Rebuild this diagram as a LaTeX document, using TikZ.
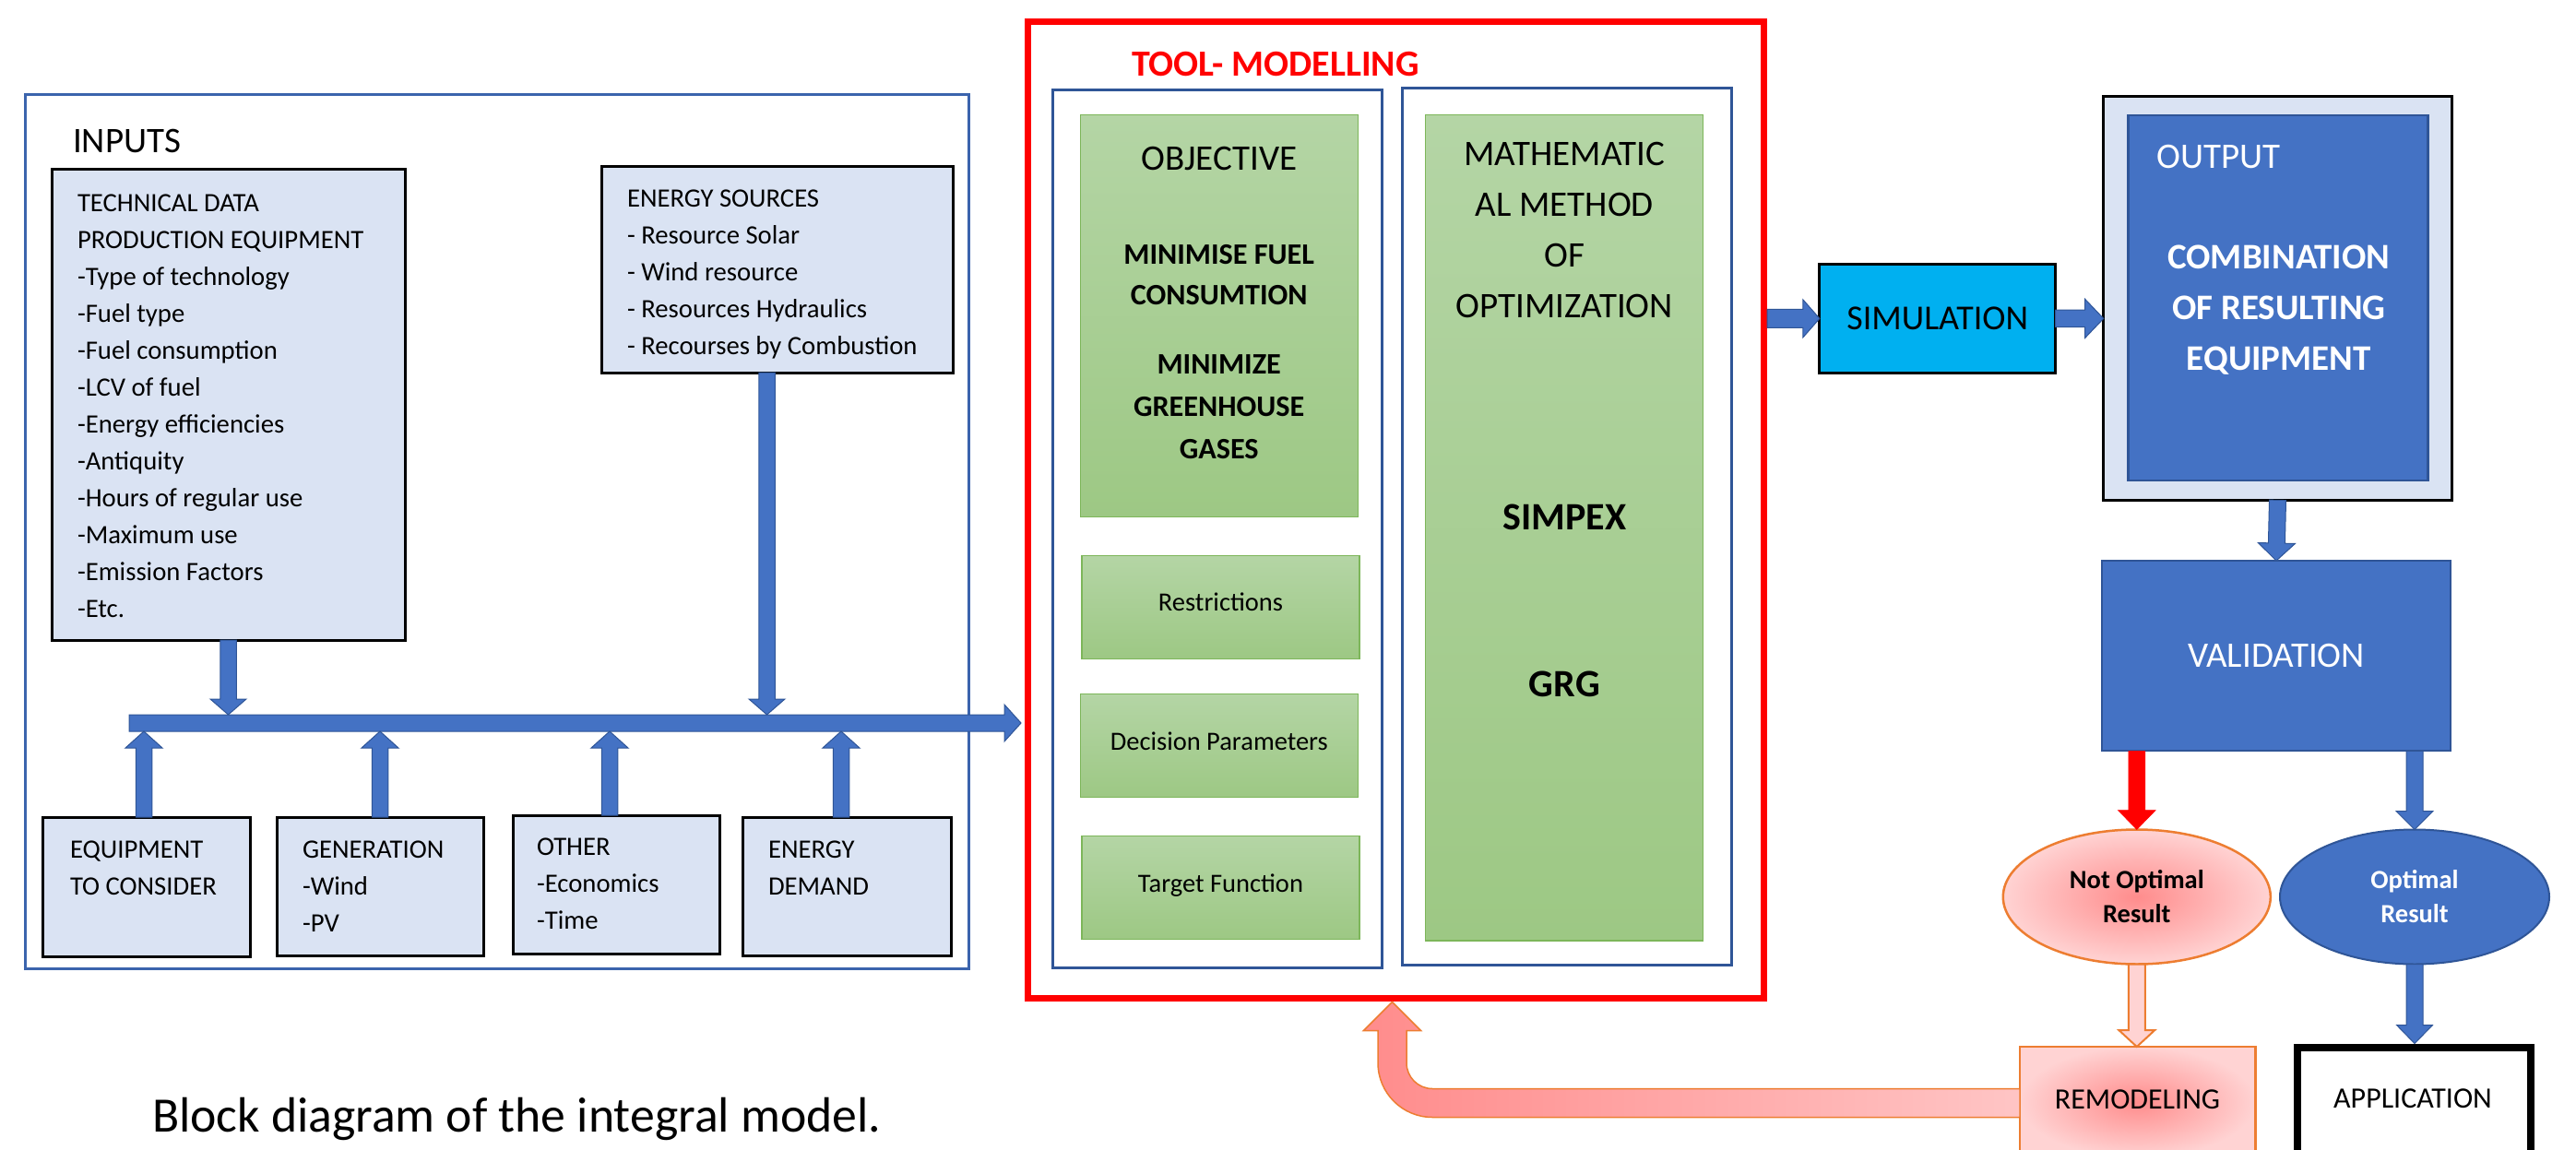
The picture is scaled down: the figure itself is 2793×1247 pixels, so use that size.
\documentclass[tikz,border=0pt]{standalone}
\usepackage{fontspec}
\setmainfont{Carlito}
\usetikzlibrary{calc,shapes.geometric}
\definecolor{lblue}{HTML}{DAE3F3}
\definecolor{accblue}{HTML}{4472C4}
\definecolor{dkblue}{HTML}{2F5597}
\definecolor{frameblue}{HTML}{3B64AD}
\definecolor{gtop}{HTML}{B4D5A5}
\definecolor{gbot}{HTML}{9DC884}
\definecolor{gline}{HTML}{7DB65A}
\definecolor{simblue}{HTML}{00B0F0}
\definecolor{orng}{HTML}{ED7D31}
\definecolor{pinkc}{HTML}{FF8C8C}
\definecolor{pinke}{HTML}{FFD3D3}
\newcommand\fTech{\fontsize{28.7}{40}\selectfont}
\newcommand\fBig{\fontsize{39}{55}\selectfont}
\newcommand\blockarr[6]{%
  \coordinate (bahead) at ($(#3)!#6!(#2)$);
  \path[#1] ($(#2)!#4!90:(#3)$) -- ($(bahead)!#4!90:(#3)$) -- ($(bahead)!#5!90:(#3)$) -- (#3)
    -- ($(bahead)!#5!-90:(#3)$) -- ($(bahead)!#4!-90:(#3)$) -- ($(#2)!#4!-90:(#3)$) -- cycle;}
\tikzset{
  lbox/.style={draw=black, line width=3pt, fill=lblue},
  gbox/.style={draw=gline, line width=1.5pt, top color=gtop, bottom color=gbot},
  bframe/.style={draw=dkblue, line width=3pt},
  bluearr/.style={fill=accblue, draw=dkblue, line width=1pt},
  redarr/.style={fill=red, draw=red, line width=0.5pt},
  pinkarr/.style={draw=orng, line width=2pt, left color=pinke, middle color=pinkc!70!white, right color=pinke},
  fbarr/.style={draw=orng, line width=1.5pt, left color=pinkc, right color=pinke!80!pinkc},
  txt/.style={anchor=base west},
  ctxt/.style={anchor=base}
}
\begin{document}
\begin{tikzpicture}[x=1pt,y=-1pt, every node/.style={inner sep=0pt, outer sep=0pt}]
\useasboundingbox (0,0) rectangle (2793,1247);
\clip (0,0) rectangle (2793,1247);
\fill[white] (0,0) rectangle (2793,1247);

% ---------------- INPUTS ----------------
\node[draw=frameblue, line width=3pt, minimum width=1023pt, minimum height=948pt] (inputs) at (538.5,576) {};
\node[txt, font=\fontsize{39}{47}\selectfont] (inputslbl) at (79,165) {INPUTS};

\node[lbox, minimum width=383pt, minimum height=511pt] (tech) at (247.5,438.5) {};
\node[txt, font=\fTech] (techtxt) at (84,229) {\begin{tabular}[t]{@{}l@{}}TECHNICAL DATA\\PRODUCTION EQUIPMENT\\-Type of technology\\-Fuel type\\-Fuel consumption\\-LCV of fuel\\-Energy efficiencies\\-Antiquity\\-Hours of regular use\\-Maximum use\\-Emission Factors\\-Etc.\end{tabular}};

\node[lbox, minimum width=381pt, minimum height=224pt] (energy) at (842.5,292) {};
\node[txt, font=\fTech] (energytxt) at (680,224.5) {\begin{tabular}[t]{@{}l@{}}ENERGY SOURCES\\- Resource Solar\\- Wind resource\\- Resources Hydraulics\\- Recourses by Combustion\end{tabular}};

\node[lbox, minimum width=225pt, minimum height=151pt] (equip) at (158.5,961.5) {};
\node[lbox, minimum width=224pt, minimum height=150pt] (gen) at (412,961) {};
\node[lbox, minimum width=224pt, minimum height=150pt] (other) at (668,959) {};
\node[lbox, minimum width=226pt, minimum height=150pt] (demand) at (918,961) {};
\node[txt, font=\fTech] (equiptxt) at (76,930) {\begin{tabular}[t]{@{}l@{}}EQUIPMENT\\TO CONSIDER\end{tabular}};
\node[txt, font=\fTech] (gentxt) at (328,930) {\begin{tabular}[t]{@{}l@{}}GENERATION\\-Wind\\-PV\end{tabular}};
\node[txt, font=\fTech] (othertxt) at (582,927) {\begin{tabular}[t]{@{}l@{}}OTHER\\-Economics\\-Time\end{tabular}};
\node[txt, font=\fTech] (demandtxt) at (833,930) {\begin{tabular}[t]{@{}l@{}}ENERGY\\DEMAND\end{tabular}};

% bus and arrows into it
\coordinate (bustop) at (0,775);
\coordinate (busbot) at (0,793);
\coordinate (busA) at (140,784);
\coordinate (busB) at (1107,784);
\blockarr{bluearr}{busA}{busB}{9pt}{20pt}{18pt}
\coordinate (t1) at (tech.south |- bustop);
\blockarr{bluearr}{tech.south}{t1}{8.75pt}{19.5pt}{17pt}
\coordinate (e0) at ($(energy.south)+(-11,0)$);
\coordinate (e1) at (e0 |- bustop);
\blockarr{bluearr}{e0}{e1}{8.75pt}{19.5pt}{17pt}
\coordinate (q0) at ($(equip.north)+(-2.5,0)$);
\coordinate (q1) at (q0 |- busbot);
\blockarr{bluearr}{q0}{q1}{8.75pt}{20pt}{18pt}
\coordinate (g1) at (gen.north |- busbot);
\blockarr{bluearr}{gen.north}{g1}{8.75pt}{20pt}{18pt}
\coordinate (o0) at ($(other.north)+(-7,0)$);
\coordinate (o1) at (o0 |- busbot);
\blockarr{bluearr}{o0}{o1}{8.75pt}{20pt}{18pt}
\coordinate (d0) at ($(demand.north)+(-6,0)$);
\coordinate (d1) at (d0 |- busbot);
\blockarr{bluearr}{d0}{d1}{8.75pt}{20pt}{18pt}

% ---------------- TOOL MODELLING ----------------
\node[draw=red, line width=7pt, minimum width=798pt, minimum height=1059pt] (tool) at (1513.5,553) {};
\node[txt, text=red, font=\bfseries\fontsize{40}{48}\selectfont] (tooltitle) at (1227,82) {TOOL- MODELLING};
\node[bframe, minimum width=356.6pt, minimum height=952pt] (lframe) at (1320,573.3) {};
\node[bframe, minimum width=357pt, minimum height=950.3pt] (rframe) at (1699.2,570.9) {};

\node[gbox, minimum width=301pt, minimum height=436pt] (objbox) at (1321.8,342.7) {};
\node[gbox, minimum width=301pt, minimum height=112pt] (restr) at (1323.5,658.3) {};
\node[gbox, minimum width=301pt, minimum height=112pt] (decis) at (1321.8,808.7) {};
\node[gbox, minimum width=301pt, minimum height=111.6pt] (target) at (1323.5,962.5) {};
\node[gbox, minimum width=301pt, minimum height=895.3pt] (mathbox) at (1696.2,572.3) {};

\node[ctxt, font=\fontsize{39}{47}\selectfont] (objtitle) at (1321.7,184.3) {OBJECTIVE};
\node[ctxt, font=\bfseries\fontsize{32.2}{44}\selectfont] (objfuel) at (1321.7,286.7) {\begin{tabular}[t]{@{}c@{}}MINIMISE FUEL\\CONSUMTION\end{tabular}};
\node[ctxt, font=\bfseries\fontsize{32.2}{46}\selectfont] (objgas) at (1321.7,405) {\begin{tabular}[t]{@{}c@{}}MINIMIZE\\GREENHOUSE\\GASES\end{tabular}};
\node[ctxt, font=\fontsize{28.5}{36}\selectfont] (restrtxt) at (1323.5,662.7) {Restrictions};
\node[ctxt, font=\fontsize{28.5}{36}\selectfont] (decistxt) at (1321.8,813.3) {Decision Parameters};
\node[ctxt, font=\fontsize{28.5}{36}\selectfont] (targettxt) at (1323.5,967.7) {Target Function};
\node[ctxt, font=\fBig] (mathtxt) at (1696.3,179) {\begin{tabular}[t]{@{}c@{}}MATHEMATIC\\AL METHOD\\OF\\OPTIMIZATION\end{tabular}};
\node[ctxt, font=\bfseries\fontsize{42}{50}\selectfont] (simpex) at (1696.3,574) {SIMPEX};
\node[ctxt, font=\bfseries\fontsize{42}{50}\selectfont] (grg) at (1696.3,755) {GRG};

% ---------------- RIGHT SIDE ----------------
\node[draw=black, line width=3pt, fill=simblue, minimum width=255.7pt, minimum height=117.5pt, font=\fontsize{38}{45}\selectfont] (sim) at (2100.7,345.4) {SIMULATION};
\node[lbox, minimum width=377.6pt, minimum height=438.3pt] (outbox) at (2469.5,323.2) {};
\node[fill=accblue, draw=dkblue, line width=2.5pt, minimum width=325.4pt, minimum height=396pt] (outin) at (2470,323) {};
\node[txt, text=white, font=\fontsize{39}{47}\selectfont] (outlbl) at (2338.3,182.3) {OUTPUT};
\node[ctxt, text=white, font=\bfseries\fontsize{39}{55.3}\selectfont] (combtxt) at (2470.8,291) {\begin{tabular}[t]{@{}c@{}}COMBINATION\\OF RESULTING\\EQUIPMENT\end{tabular}};
\node[fill=accblue, draw=dkblue, line width=2pt, minimum width=378.7pt, minimum height=206.4pt, text=white, font=\fontsize{39}{47}\selectfont] (val) at (2468,711.2) {VALIDATION};

\node[ellipse, draw=orng, line width=2.5pt, inner color=pinkc, outer color=pinke, minimum width=290pt, minimum height=146pt, align=center, font=\bfseries\fontsize{28.5}{37}\selectfont] (notopt) at (2316.8,972.5) {Not Optimal\\Result};
\node[ellipse, draw=dkblue, line width=2pt, fill=accblue, minimum width=292pt, minimum height=146pt, align=center, text=white, font=\bfseries\fontsize{28.5}{37}\selectfont] (opt) at (2618,972.5) {Optimal\\Result};

\node[draw=orng, line width=2.5pt, inner color=pinkc, outer color=pinke, minimum width=255.5pt, minimum height=120pt] (remodel) at (2317.75,1195) {};
\node[ctxt, font=\fontsize{32}{40}\selectfont] (remodeltxt) at (2317.5,1202.3) {REMODELING};
\node[draw=black, line width=8pt, fill=white, minimum width=253.9pt, minimum height=119pt] (app) at (2617.5,1195) {};
\node[ctxt, font=\fontsize{32}{40}\selectfont] (apptxt) at (2616,1201) {APPLICATION};

% arrows
\coordinate (s0) at ($(tool.east |- sim.west)+(3.5,0)$);
\blockarr{bluearr}{s0}{sim.west}{10pt}{20.5pt}{18pt}
\coordinate (so1) at (sim.east -| outbox.west);
\blockarr{bluearr}{sim.east}{so1}{9.2pt}{21pt}{20pt}
\blockarr{bluearr}{outbox.south}{val.north}{9pt}{20pt}{19pt}
\coordinate (v1) at (notopt.north |- val.south);
\blockarr{redarr}{v1}{notopt.north}{9pt}{20.5pt}{21pt}
\coordinate (v2) at (opt.north |- val.south);
\blockarr{bluearr}{v2}{opt.north}{9pt}{20pt}{20pt}
\coordinate (r1) at (notopt.south |- remodel.north);
\blockarr{pinkarr}{notopt.south}{r1}{9pt}{19.5pt}{18pt}
\coordinate (a1) at ($(opt.south |- app.north)+(0,-4)$);
\blockarr{bluearr}{opt.south}{a1}{9pt}{19.5pt}{20pt}

% feedback arrow REMODELING -> TOOL
\coordinate (fbR) at ($(remodel.north west)+(0,61)$);
\coordinate (fbT) at ($(tool.south)+(-4,4)$);
\path[fbarr] let \p1=(fbT), \p2=(fbR) in
  (\x2,\y2+15.5pt) -- (\x1+43.5pt,\y2+15.5pt)
  .. controls (\x1+28.04pt,\y2+15.5pt) and (\x1+15.5pt,\y2+28.04pt) .. (\x1+15.5pt,\y2+43.5pt)
  -- (\x1+15.5pt,\y1-31pt) -- (\x1+31pt,\y1-31pt) -- (\x1,\y1) -- (\x1-31pt,\y1-31pt) -- (\x1-15.5pt,\y1-31pt)
  -- (\x1-15.5pt,\y2+43.5pt)
  .. controls (\x1-15.5pt,\y2+10.91pt) and (\x1+10.91pt,\y2-15.5pt) .. (\x1+43.5pt,\y2-15.5pt)
  -- (\x2,\y2-15.5pt) -- cycle;

% caption
\node[txt, font=\fontsize{53.7}{64}\selectfont] (caption) at (165,1227) {Block diagram of the integral model.};
\end{tikzpicture}
\end{document}
